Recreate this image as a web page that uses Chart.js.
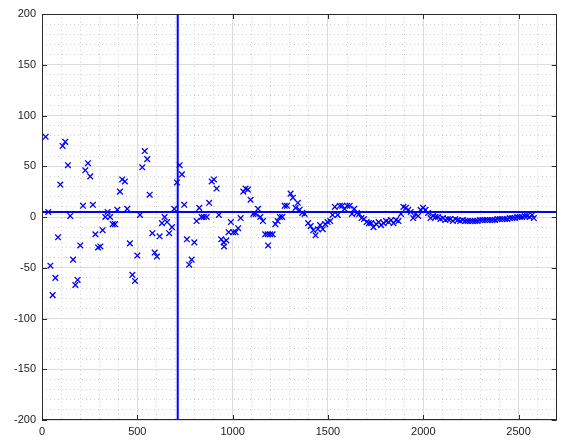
<!DOCTYPE html>
<html><head><meta charset="utf-8">
<script src="https://cdn.jsdelivr.net/npm/chart.js@4/dist/chart.umd.min.js"></script>
<style>html,body{margin:0;padding:0;background:#fff}#wrap{width:562px;height:443px;position:relative}</style>
</head><body><div id="wrap"><canvas id="c" width="562" height="443"></canvas></div>
<script>
// ---- data ----
const xs = [19,33,44,56,70,84,96,108,122,136,148,163,175,187,201,215,227,241,253,267,280,294,306,318,332,344,357,371,383,395,409,421,435,447,461,474,488,500,514,526,539,552,565,579,591,603,617,629,643,656,667,682,694,708,722,734,746,760,772,785,799,811,825,837,849,864,877,890,902,916,928,940,953,955,967,979,991,1003,1016,1029,1042,1056,1068,1080,1094,1108,1121,1133,1145,1159,1171,1184,1186,1197,1210,1224,1236,1248,1260,1273,1285,1304,1316,1330,1342,1351,1365,1378,1396,1409,1423,1435,1447,1459,1473,1486,1498,1512,1524,1536,1551,1563,1575,1587,1601,1614,1626,1638,1652,1664,1676,1689,1703,1715,1727,1739,1753,1766,1779,1792,1805,1818,1831,1844,1857,1870,1883,1896,1909,1921,1934,1947,1960,1973,1986,1999,2012,2025,2038,2051,2064,2077,2090,2103,2116,2129,2142,2155,2168,2181,2194,2207,2220,2233,2246,2259,2272,2285,2298,2311,2324,2337,2350,2363,2376,2389,2402,2415,2428,2441,2454,2467,2480,2493,2506,2519,2532,2545,2558,2571,2580];
const ys = [79,5,-48,-77,-60,-20,32,70,74,51,1,-42,-67,-62,-28,11,46,53,40,12,-17,-30,-29,-13,0,5,0,-7,-7,7,25,37,35,8,-26,-57,-63,-38,2,49,65,57,22,-16,-35,-39,-19,-6,0,-5,-16,-10,8,34,51,42,12,-22,-47,-42,-25,-4,9,0,0,0,14,35,37,28,2,-22,-25,-29,-23,-15,-5,-15,-15,-11,-1,25,28,27,17,3,3,8,0,-4,-17,-17,-28,-17,-17,-7,-4,0,0,11,11,23,19,9,14,7,4,3,-6,-9,-13,-18,-12,-8,-12,-7,-5,-4,2,10,2,11,11,8,11,11,3,8,4,3,-1,-2,-5,-6,-6,-10,-7,-5,-8,-6,-4,-5,-3,-6,-3,-4,3,10,9,7,5,-1,3,1,7,9,7,4,-1,1,0,0,-2,-1,-3,-2,-2,-4,-2,-3,-4,-3,-4,-4,-4,-4,-4,-4,-3,-3,-3,-3,-3,-3,-3,-2,-2,-2,-2,-2,-1,-1,-1,0,0,0,1,1,0,2,-1];
const vLineX = 712;
const hLineY = 5;
const xRange = [0, 2700];
const yRange = [-200, 200];
const xTicks = [0, 500, 1000, 1500, 2000, 2500];
const yTicks = [-200, -150, -100, -50, 0, 50, 100, 150, 200];
const xMinorStep = 100;
const yMinorStep = 10;

const BLUE = '#0000ff';
const points = xs.map((x, i) => ({ x: x, y: ys[i] }));

function stepTicks(min, max, step) {
  const t = [];
  for (let v = min; v <= max + 1e-9; v += step) t.push({ value: v });
  return t;
}

const framePlugin = {
  id: 'frame',
  afterDraw(chart) {
    const { ctx, chartArea: a, scales } = chart;
    ctx.save();
    ctx.strokeStyle = '#2a2a2a';
    ctx.lineWidth = 1;
    ctx.strokeRect(Math.round(a.left) + 0.5, Math.round(a.top) + 0.5, Math.round(a.right - a.left) - 1, Math.round(a.bottom - a.top) - 1);
    const L = 5;
    ctx.beginPath();
    scales.x.ticks.forEach(t => {
      const px = Math.round(scales.x.getPixelForValue(t.value)) + 0.5;
      ctx.moveTo(px, a.bottom); ctx.lineTo(px, a.bottom - L);
      ctx.moveTo(px, a.top); ctx.lineTo(px, a.top + L);
    });
    scales.y.ticks.forEach(t => {
      const py = Math.round(scales.y.getPixelForValue(t.value)) + 0.5;
      ctx.moveTo(a.left, py); ctx.lineTo(a.left + L, py);
      ctx.moveTo(a.right, py); ctx.lineTo(a.right - L, py);
    });
    ctx.stroke();
    ctx.restore();
  }
};

new Chart(document.getElementById('c'), {
  type: 'scatter',
  data: {
    datasets: [
      { data: points, pointStyle: 'crossRot', pointRadius: 4, pointBorderColor: BLUE, pointBackgroundColor: BLUE, pointBorderWidth: 1.3, showLine: false, order: 2 },
      { data: [{ x: vLineX, y: yRange[0] }, { x: vLineX, y: yRange[1] }], showLine: true, borderColor: BLUE, borderWidth: 2, pointRadius: 0, order: 1 },
      { data: [{ x: xRange[0], y: hLineY }, { x: xRange[1], y: hLineY }], showLine: true, borderColor: BLUE, borderWidth: 2, pointRadius: 0, order: 1 }
    ]
  },
  options: {
    responsive: false,
    animation: false,
    devicePixelRatio: 1,
    layout: { padding: { top: 14, right: 5, left: 0, bottom: 0 } },
    plugins: { legend: { display: false }, tooltip: { enabled: false } },
    scales: {
      xMinor: {
        type: 'linear', position: 'bottom', min: xRange[0], max: xRange[1],
        afterBuildTicks: s => { s.ticks = stepTicks(xRange[0], xRange[1], xMinorStep); },
        afterFit: s => { s.height = 0; },
        ticks: { display: false }, border: { display: false, dash: [1, 3] },
        grid: { color: '#d0d0d0', lineWidth: 1, drawTicks: false, z: -2 }
      },
      yMinor: {
        type: 'linear', position: 'left', min: yRange[0], max: yRange[1],
        afterBuildTicks: s => { s.ticks = stepTicks(yRange[0], yRange[1], yMinorStep); },
        afterFit: s => { s.width = 0; },
        ticks: { display: false }, border: { display: false, dash: [1, 3] },
        grid: { color: '#d0d0d0', lineWidth: 1, drawTicks: false, z: -2 }
      },
      x: {
        type: 'linear', position: 'bottom', min: xRange[0], max: xRange[1],
        afterBuildTicks: s => { s.ticks = xTicks.map(v => ({ value: v })); },
        afterFit: s => { s.height = 23; },
        border: { display: false },
        grid: { color: '#dcdcdc', lineWidth: 1, drawTicks: false, z: -1 },
        ticks: { color: '#222', font: { family: 'Liberation Sans', size: 11 }, padding: 5, maxRotation: 0, callback: v => String(v) }
      },
      y: {
        type: 'linear', position: 'left', min: yRange[0], max: yRange[1],
        afterBuildTicks: s => { s.ticks = yTicks.map(v => ({ value: v })); },
        afterFit: s => { s.width = 42; },
        border: { display: false },
        grid: { color: '#dcdcdc', lineWidth: 1, drawTicks: false, z: -1 },
        ticks: { color: '#222', font: { family: 'Liberation Sans', size: 11 }, padding: 6, callback: v => String(v) }
      }
    }
  },
  plugins: [framePlugin]
});
</script>
</body></html>
